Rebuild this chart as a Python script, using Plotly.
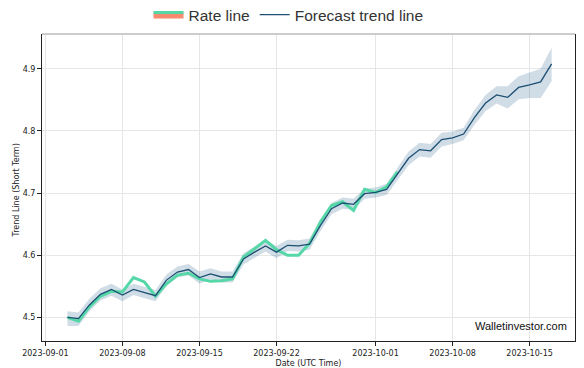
import plotly.graph_objects as go
import pandas as pd

# ---- data ----
trend_dates = pd.date_range("2023-09-03", "2023-10-17", freq="D")
trend_values = [4.500, 4.498, 4.520, 4.537, 4.545, 4.536, 4.545, 4.540, 4.535, 4.560,
                4.573, 4.577, 4.564, 4.570, 4.565, 4.565, 4.594, 4.605, 4.615, 4.605,
                4.616, 4.615, 4.618, 4.648, 4.675, 4.684, 4.682, 4.699, 4.701, 4.706,
                4.732, 4.756, 4.770, 4.768, 4.786, 4.789, 4.795, 4.822, 4.845, 4.858,
                4.854, 4.870, 4.874, 4.879, 4.908]
trend_upper = [4.510, 4.508, 4.530, 4.547, 4.554, 4.545, 4.554, 4.549, 4.544, 4.569,
               4.582, 4.586, 4.574, 4.579, 4.574, 4.574, 4.603, 4.614, 4.624, 4.615,
               4.625, 4.624, 4.627, 4.657, 4.684, 4.693, 4.691, 4.707, 4.709, 4.715,
               4.742, 4.767, 4.781, 4.779, 4.797, 4.799, 4.805, 4.834, 4.858, 4.872,
               4.872, 4.888, 4.894, 4.900, 4.934]
trend_lower = [4.486, 4.486, 4.510, 4.527, 4.535, 4.526, 4.536, 4.531, 4.526, 4.551,
               4.564, 4.568, 4.554, 4.561, 4.556, 4.556, 4.585, 4.596, 4.606, 4.595,
               4.607, 4.606, 4.609, 4.639, 4.666, 4.675, 4.673, 4.691, 4.693, 4.697,
               4.722, 4.745, 4.759, 4.757, 4.775, 4.779, 4.785, 4.810, 4.832, 4.844,
               4.836, 4.851, 4.853, 4.853, 4.880]

rate_dates = pd.date_range("2023-09-03", "2023-10-03", freq="D")
rate_values = [4.500, 4.494, 4.517, 4.534, 4.542, 4.541, 4.564, 4.557, 4.534, 4.554,
               4.568, 4.571, 4.562, 4.558, 4.559, 4.562, 4.597, 4.610, 4.624, 4.609,
               4.600, 4.600, 4.619, 4.654, 4.680, 4.686, 4.672, 4.706, 4.701, 4.710,
               4.734]

x_tick_vals = ["2023-09-01", "2023-09-08", "2023-09-15", "2023-09-22",
               "2023-10-01", "2023-10-08", "2023-10-15"]
y_tick_vals = [4.5, 4.6, 4.7, 4.8, 4.9]

GREEN = "#55d7a8"
SALMON = "#f88a6e"
BLUE = "#1c4f72"
BAND = "rgba(40,95,140,0.22)"
TICKFONT = dict(family="DejaVu Sans", size=8, color="#222")

fig = go.Figure()

# confidence band
fig.add_trace(go.Scatter(x=trend_dates, y=trend_upper, mode="lines",
                         line=dict(width=0), showlegend=False, hoverinfo="skip"))
fig.add_trace(go.Scatter(x=trend_dates, y=trend_lower, mode="lines",
                         line=dict(width=0), fill="tonexty", fillcolor=BAND,
                         showlegend=False, hoverinfo="skip"))

# rate line
fig.add_trace(go.Scatter(x=rate_dates, y=rate_values, mode="lines",
                         line=dict(color=GREEN, width=3), name="Rate line",
                         showlegend=False))
# legend entry for rate line (two-colour icon)
fig.add_trace(go.Scatter(x=[None], y=[None], mode="lines", name="Rate line",
                         line=dict(color=GREEN, width=3), fill="toself",
                         fillcolor=SALMON))
# forecast trend line
fig.add_trace(go.Scatter(x=trend_dates, y=trend_values, mode="lines",
                         line=dict(color=BLUE, width=1.3), name="Forecast trend line"))

# page body has an 8px margin, so the figure is 576x360 inside the 584x368 window
fig.update_layout(
    width=576, height=360,
    margin=dict(l=34, r=8.5, t=26.3, b=27.4, autoexpand=False),
    paper_bgcolor="white", plot_bgcolor="white",
    legend=dict(orientation="h", x=0.487, xanchor="center", xref="container",
                y=1.062, yanchor="middle", yref="paper",
                traceorder="normal",
                font=dict(family="Liberation Sans, Arial", size=15.5, color="#333"),
                itemwidth=30, bgcolor="rgba(0,0,0,0)"),
    showlegend=True,
)

fig.update_xaxes(
    type="date", range=["2023-08-31 16:30", "2023-10-19 03:00"],
    tickvals=x_tick_vals, tickformat="%Y-%m-%d",
    showgrid=True, gridcolor="#e6e6e6", gridwidth=1,
    showline=True, linecolor="#222", linewidth=1,
    ticks="outside", ticklen=4, tickcolor="#222",
    tickfont=TICKFONT, zeroline=False, automargin=False,
    title=dict(text="Date (UTC Time)", font=dict(family="DejaVu Sans", size=8, color="#222"),
               standoff=4),
)
fig.update_yaxes(
    range=[4.462, 4.956], tickvals=y_tick_vals, tickformat=".1f",
    showgrid=True, gridcolor="#e6e6e6", gridwidth=1,
    showline=True, linecolor="#222", linewidth=1, mirror=True,
    ticks="outside", ticklen=4, tickcolor="#222",
    tickfont=TICKFONT, zeroline=False, automargin=False,
)

# y-axis title (placed as annotation for exact position)
fig.add_annotation(text="Trend Line (Short Term)", xref="paper", yref="paper",
                   x=-0.047, y=0.49, xanchor="center", yanchor="middle",
                   textangle=-90, showarrow=False,
                   font=dict(family="DejaVu Sans", size=8, color="#222"))

# light grey top border
fig.add_shape(type="line", xref="paper", yref="paper", x0=0, x1=1, y0=1, y1=1,
              line=dict(color="#cccccc", width=2))

# watermark
fig.add_annotation(text="Walletinvestor.com", xref="paper", yref="paper",
                   x=0.988, y=0.048, xanchor="right", yanchor="middle",
                   showarrow=False,
                   font=dict(family="Liberation Sans, Arial", size=11, color="#111"))

fig.write_html("out.html")
